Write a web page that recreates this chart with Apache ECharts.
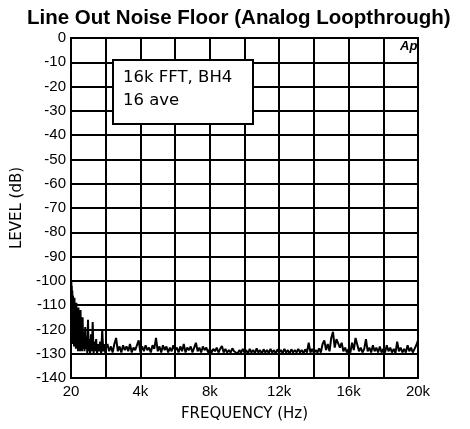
<!DOCTYPE html>
<html>
<head>
<meta charset="utf-8">
<script src="https://cdn.jsdelivr.net/npm/echarts@6/dist/echarts.min.js"></script>
<style>
  html, body { margin: 0; padding: 0; background: #fff; }
  #main { width: 470px; height: 429px; }
</style>
</head>
<body>
<div id="main"></div>
<script>
// axis ticks
const yTicks = [0, -10, -20, -30, -40, -50, -60, -70, -80, -90, -100, -110, -120, -130, -140]
const xLabels = { 0: '20', 4000: '4k', 8000: '8k', 12000: '12k', 16000: '16k', 20000: '20k' }

// noise floor, [Hz, dB]
const lowEnd = [
  [20,-100],[30,-118],[45,-102],[60,-124],[75,-104],[95,-126],[115,-106],[135,-125],
  [155,-108],[175,-127],[200,-107],[225,-126],[250,-110],[280,-128],[310,-109],[340,-127],
  [370,-112],[400,-129],[430,-111],[460,-127],[490,-113],[520,-129],[550,-112],[580,-128],
  [610,-117],[640,-129],[670,-115],[700,-128],[740,-121],[780,-129],[820,-119],[860,-128],
  [900,-123],[940,-130],[980,-116],[1020,-129],[1060,-124],[1100,-130],[1150,-122],[1200,-129],
  [1250,-117],[1300,-130],[1350,-125],[1400,-129],[1450,-124],[1500,-130],[1560,-126],[1620,-129],
  [1680,-125],[1740,-130],[1800,-120],[1860,-129],[1920,-126],[1980,-130]
]
const midBand = [
  [2000,-128],[2100,-126],[2200,-129],[2300,-127],[2400,-129.5],[2500,-126],[2600,-123.5],[2700,-129],
  [2800,-127],[2900,-129.5],[3000,-126.5],[3100,-128.5],[3200,-127],[3300,-129],[3400,-126],[3500,-129.5],
  [3600,-127.5],[3700,-128.5],[3800,-126.5],[3900,-124.5],[4000,-129.5],[4100,-127],[4200,-129],[4300,-126.5],
  [4400,-128.5],[4500,-127.5],[4600,-129.5],[4700,-126.5],[4800,-128],[4900,-123.5],[5000,-129],[5100,-127],
  [5200,-129.5],[5300,-126.5],[5400,-128.5],[5500,-127],[5600,-129.5],[5700,-127.5],[5800,-129],[5900,-126.5],
  [6000,-128.5],[6100,-127.5],[6200,-129.5],[6300,-127],[6400,-129],[6500,-126],[6600,-129.5],[6700,-127.5],
  [6800,-128.5],[6900,-127],[7000,-129.5],[7100,-127.5],[7200,-125.5],[7300,-129],[7400,-127.5],[7500,-129.5],
  [7600,-127],[7700,-128.5],[7800,-127.5],[7900,-129.5]
]
const flatBand = [
  [8000,-128],[8100,-129.5],[8200,-128],[8300,-129],[8400,-127.5],[8500,-129.5],[8600,-128],[8700,-126.8],
  [8800,-129.5],[8900,-128],[9000,-129.5],[9100,-128.5],[9200,-129.5],[9300,-127.8],[9400,-129],[9500,-128.2],
  [9600,-130],[9700,-128.5],[9800,-129.5],[9900,-128],[10000,-129.5],[10100,-128.5],[10200,-130],[10300,-128],
  [10400,-129.5],[10500,-128.5],[10600,-129.8],[10700,-127.8],[10800,-129.5],[10900,-128.5],[11000,-130],[11100,-128.2],
  [11200,-129.5],[11300,-128.5],[11400,-129.8],[11500,-128],[11600,-129.5],[11700,-128.5],[11800,-130],[11900,-128.2],
  [12000,-129.5],[12100,-128.5],[12200,-129.8],[12300,-128],[12400,-129.5],[12500,-128.5],[12600,-130],[12700,-128.2],
  [12800,-129.5],[12900,-128.5]
]
const highEnd = [
  [13000,-129.5],[13100,-128],[13200,-129.5],[13300,-128.5],[13400,-129.8],[13500,-128.2],[13600,-129.5],[13700,-125.5],
  [13800,-129.5],[13900,-128],[14000,-129.8],[14100,-128.5],[14200,-129.5],[14300,-127.8],[14400,-129.5],[14500,-126],
  [14600,-124.5],[14700,-128.5],[14800,-126],[14900,-129],[15000,-123.5],[15100,-121],[15200,-127.5],[15300,-124],
  [15400,-123.5],[15500,-127.5],[15600,-125.5],[15700,-129],[15800,-127.5],[15900,-129.5],[16000,-128],[16100,-129.5],
  [16200,-125.5],[16300,-128.5],[16400,-123.5],[16500,-124],[16600,-129],[16700,-127.5],[16800,-129.5],[16900,-128],
  [17000,-124],[17100,-129],[17200,-127.5],[17300,-129.5],[17400,-126.5],[17500,-129],[17600,-127.5],[17700,-129.5],
  [17800,-127],[17900,-129.5],[18000,-128],[18100,-129.5],[18200,-126.5],[18300,-129],[18400,-127.5],[18500,-129.5],
  [18600,-128],[18700,-129.8],[18800,-125],[18900,-129],[19000,-127.5],[19100,-129.5],[19200,-128],[19300,-129.5],
  [19400,-126.5],[19500,-129],[19600,-127.5],[19700,-129.5],[19800,-128],[19900,-126.5],[20000,-124.5]
]

const chart = echarts.init(document.getElementById('main'))
const tickFont = 'Liberation Sans, Arial, sans-serif'

const option = {
  animation: false,
  backgroundColor: '#fff',
  title: {
    text: 'Line Out Noise Floor (Analog Loopthrough)',
    left: 22,
    top: 3,
    textStyle: { fontFamily: tickFont, fontSize: 20.5, fontWeight: 'bold', color: '#000' }
  },
  grid: {
    left: 71, right: 52, top: 38, bottom: 51,
    show: true, borderColor: '#000', borderWidth: 2,
    outerBoundsMode: 'none'
  },
  xAxis: {
    type: 'value',
    min: 0, max: 20000, interval: 2000,
    name: 'FREQUENCY (Hz)',
    nameLocation: 'middle',
    nameGap: 29,
    nameTextStyle: { fontFamily: '"DejaVu Sans", sans-serif', fontSize: 15, color: '#000' },
    axisLine: { show: true, lineStyle: { color: '#000', width: 2 } },
    axisTick: { show: false },
    axisLabel: {
      margin: 6, color: '#000', fontFamily: tickFont, fontSize: 15,
      formatter: v => (xLabels[v] !== undefined ? xLabels[v] : '')
    },
    splitLine: { show: true, lineStyle: { color: '#000', width: 2 } }
  },
  yAxis: {
    type: 'value',
    min: yTicks[yTicks.length - 1], max: yTicks[0], interval: 10,
    name: 'LEVEL (dB)',
    nameLocation: 'middle',
    nameGap: 44,
    nameTextStyle: { fontFamily: '"DejaVu Sans", sans-serif', fontSize: 15, color: '#000' },
    axisLine: { show: true, lineStyle: { color: '#000', width: 2 } },
    axisTick: { show: false },
    axisLabel: { margin: 5, color: '#000', fontFamily: tickFont, fontSize: 15 },
    splitLine: { show: true, lineStyle: { color: '#000', width: 2 } }
  },
  graphic: [
    {
      type: 'rect', left: 112, top: 59, z: 100,
      shape: { width: 140, height: 64 },
      style: { fill: '#fff', stroke: '#000', lineWidth: 2 }
    },
    {
      type: 'text', left: 123, top: 69, z: 101,
      style: { text: '16k FFT, BH4', fill: '#000', font: '16.5px "DejaVu Sans", sans-serif' }
    },
    {
      type: 'text', left: 123, top: 92, z: 101,
      style: { text: '16 ave', fill: '#000', font: '16.5px "DejaVu Sans", sans-serif' }
    },
    {
      type: 'text', left: 400, top: 40, z: 101,
      style: { text: 'Ap', fill: '#000', font: 'italic bold 13px "Liberation Sans", sans-serif' }
    }
  ],
  series: [
    {
      type: 'line',
      data: [...lowEnd, ...midBand, ...flatBand, ...highEnd],
      showSymbol: false,
      lineStyle: { color: '#000', width: 2 },
      z: 5
    }
  ]
}

chart.setOption(option)
</script>
</body>
</html>
